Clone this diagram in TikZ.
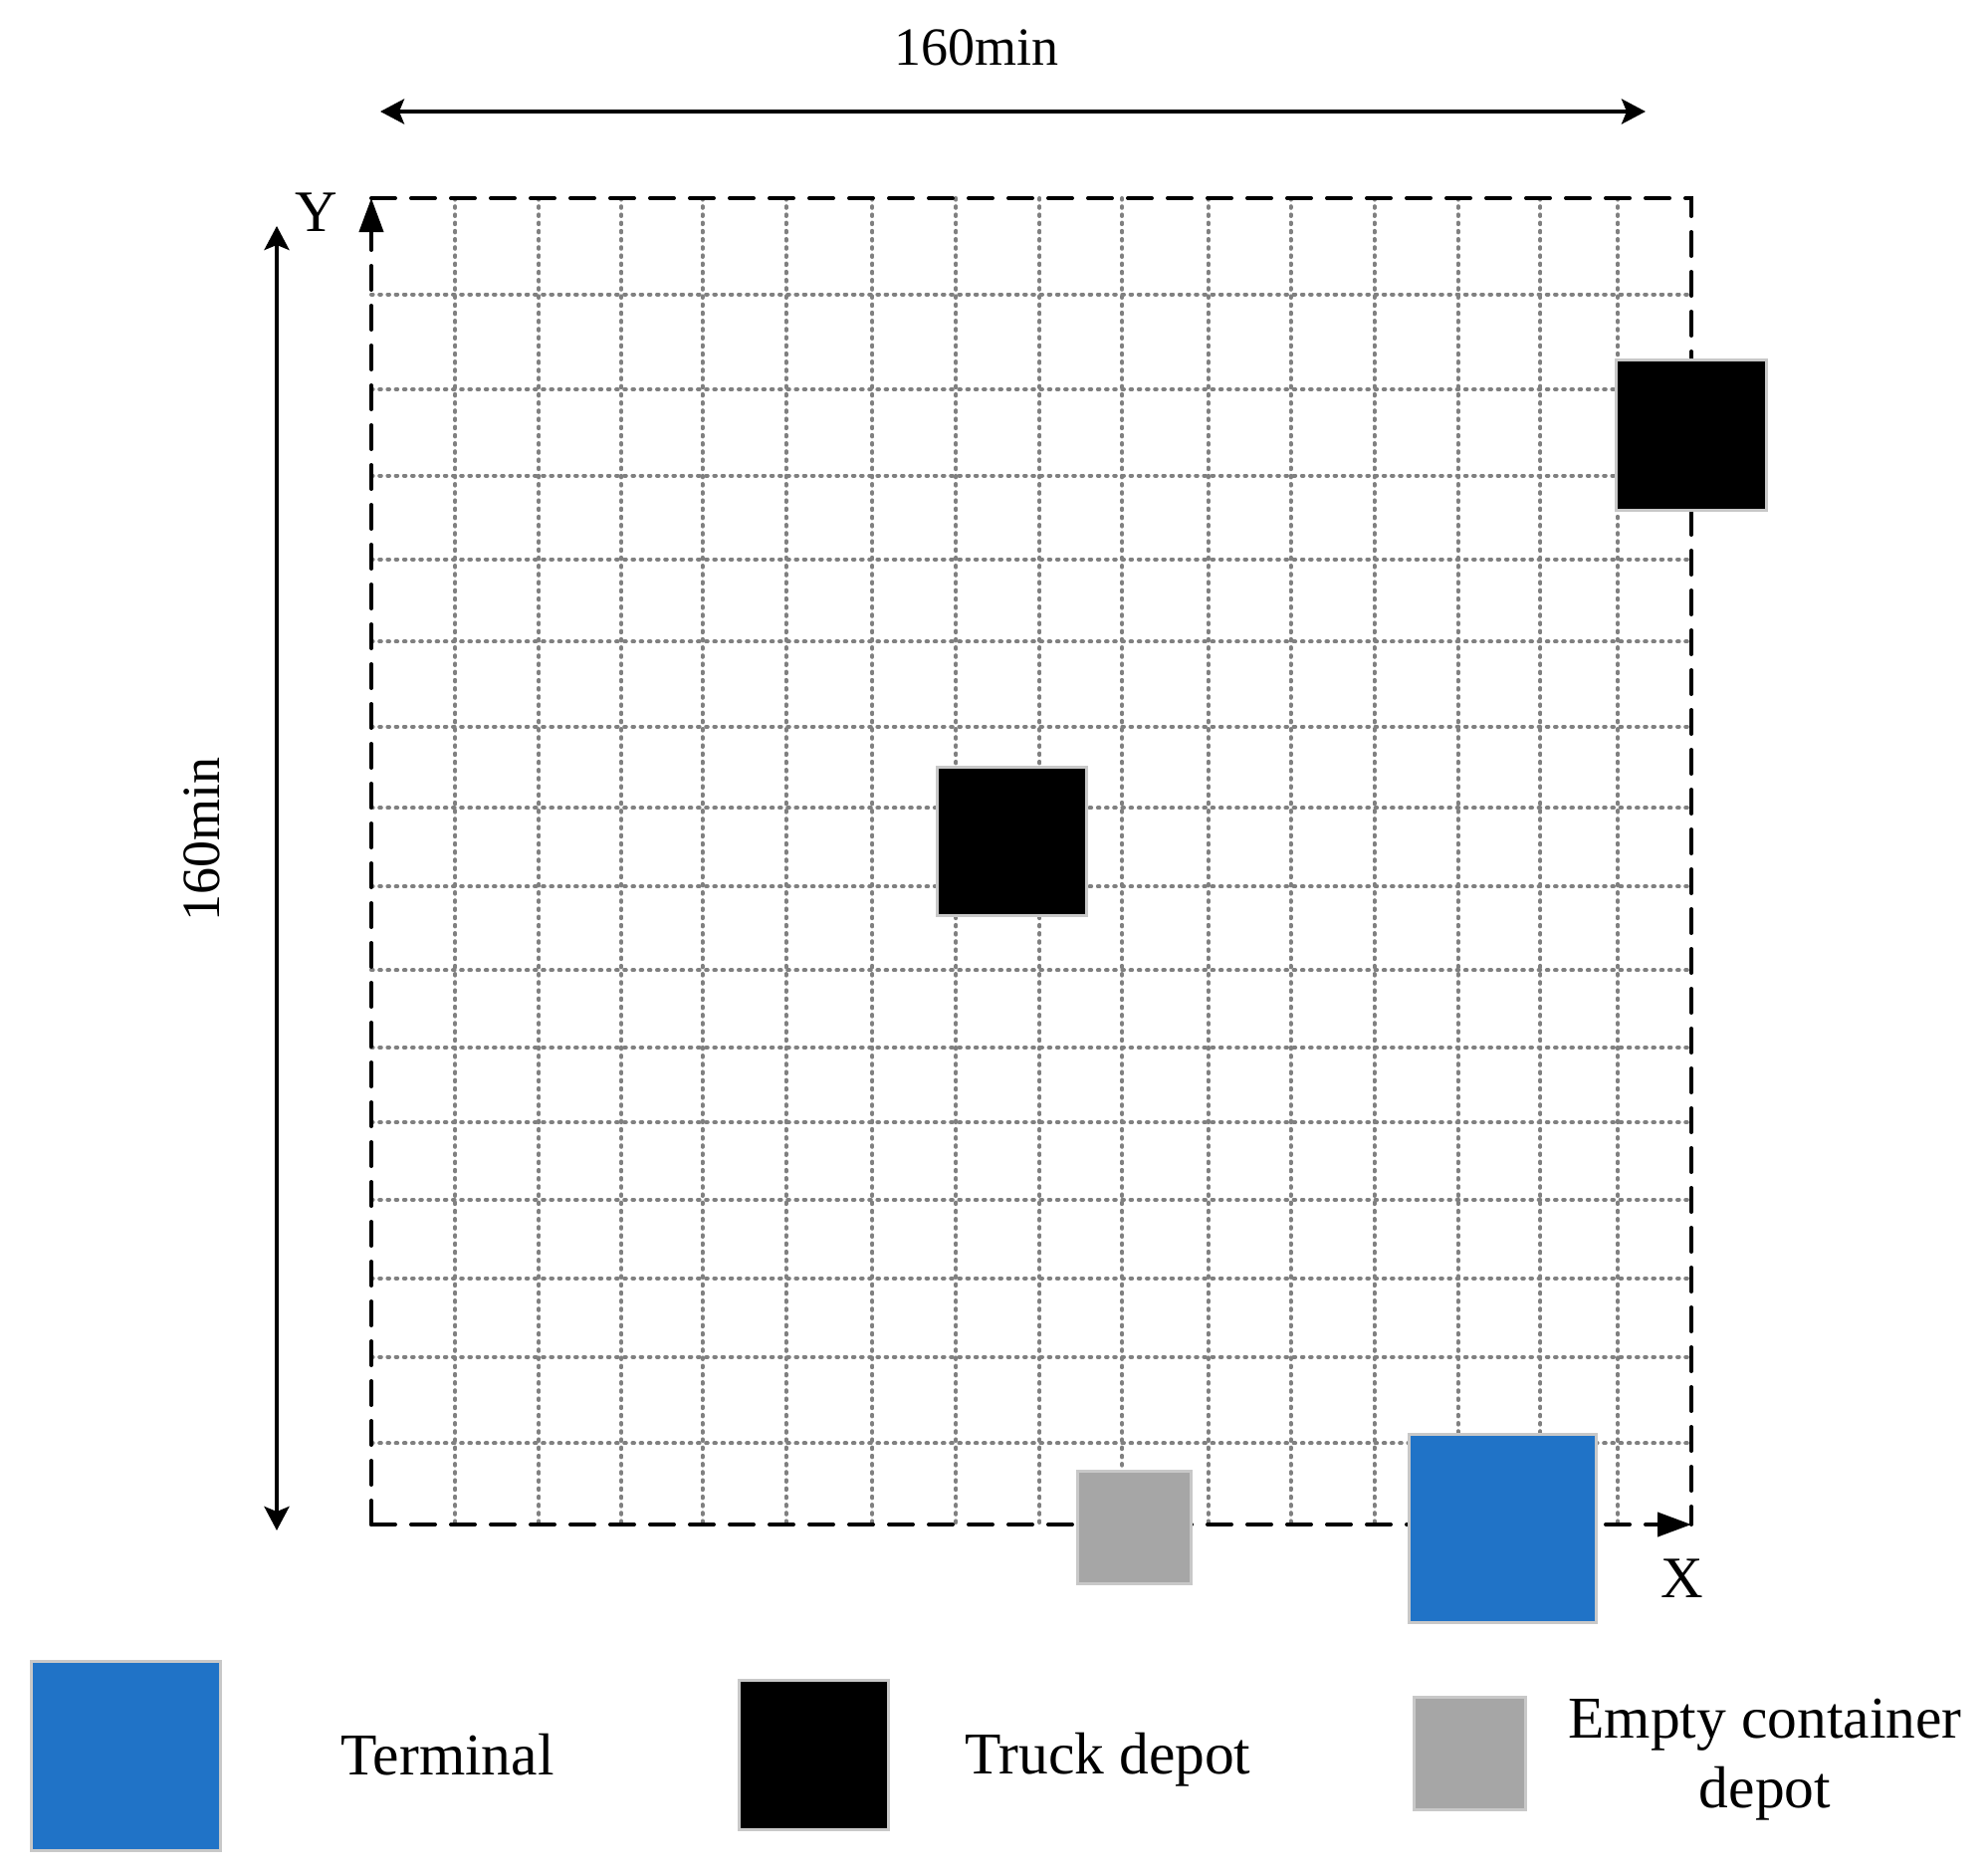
\documentclass[tikz,border=0pt]{standalone}
\usepackage{fontspec}
\setmainfont{Liberation Serif}
\usetikzlibrary{arrows.meta}
\definecolor{termblue}{HTML}{2073C7}
\definecolor{depotgray}{HTML}{A6A6A6}
\definecolor{edgegray}{HTML}{C8C8C8}
\definecolor{gridgray}{HTML}{808080}
\begin{document}
\begin{tikzpicture}[x=0.5pt,y=-0.5pt,
  gridline/.style={gridgray, line width=2pt, dash pattern=on 0.8pt off 3.3pt, line cap=round},
  border/.style={black, line width=2pt, dash pattern=on 12pt off 8pt, line cap=round},
  axistip/.style={-{Triangle[length=17pt,width=12pt]}},
  dimarrow/.style={line width=2pt, {Stealth[length=12pt,width=12.5pt,inset=2.5pt]}-{Stealth[length=12pt,width=12.5pt,inset=2.5pt]}},
  site/.style={draw=edgegray, line width=1.5pt, inner sep=0pt, outer sep=0pt},
  lbl/.style={inner sep=0pt, font=\fontsize{29.75pt}{35pt}\selectfont},
  dimlbl/.style={inner sep=0pt, font=\fontsize{27pt}{32pt}\selectfont}]

\useasboundingbox (0,0) rectangle (1997,1884);

% frame corners
\coordinate (O) at (373,1531);
\coordinate (TL) at (373,199);
\coordinate (TR) at (1699,199);
\coordinate (BR) at (1699,1531);

% grid
\foreach \gx in {457.2,541.3,624.1,705.6,789.6,876.2,960.3,1044.4,1127.1,1213.8,1296.5,1380.6,1464.7,1547.4,1625.1}
  \draw[gridline] (\gx,199) -- (\gx,1531);
\foreach \gy in {295.5,391.0,477.6,561.7,644.4,729.8,811.3,890.2,974.3,1052.0,1127.1,1204.8,1283.8,1362.8,1449.4}
  \draw[gridline] (373,\gy) -- (1699,\gy);

% frame and axes
\draw[border] (TL) -- (TR) -- (BR);
\draw[border,axistip] (O) -- (TL);
\draw[border,axistip] (O) -- (BR);

\node[inner sep=0pt, font=\fontsize{29.5pt}{34pt}\selectfont] (ylab) at (318,213) {Y};
\node[inner sep=0pt, font=\fontsize{29.5pt}{34pt}\selectfont] (xlab) at (1690,1585) {X};

% dimension arrows
\coordinate (dimT1) at (382,112);
\coordinate (dimT2) at (1653,112);
\draw[dimarrow] (dimT1) -- (dimT2);
\node[dimlbl] (dimTlab) at (981,48) {160min};

\coordinate (dimL1) at (278,227);
\coordinate (dimL2) at (278,1537);
\draw[dimarrow] (dimL1) -- (dimL2);
\node[dimlbl, rotate=90] (dimLlab) at (203,843) {160min};

% sites
\node[site, fill=black, minimum width=75.6pt, minimum height=75.4pt] (truckA) at (1699.2,436.7) {};
\node[site, fill=black, minimum width=74.9pt, minimum height=74.3pt] (truckB) at (1016.4,845) {};
\node[site, fill=depotgray, minimum width=57pt, minimum height=56.4pt] (empty) at (1139.9,1534) {};
\node[site, fill=termblue, minimum width=94.3pt, minimum height=94.4pt] (term) at (1509.5,1534.7) {};

% legend
\node[site, fill=termblue, minimum width=95pt, minimum height=95pt] (legT) at (126.7,1763.3) {};
\node[lbl, anchor=base] (legTlab) at (449.6,1782) {Terminal};
\node[site, fill=black, minimum width=75pt, minimum height=75pt] (legD) at (817.7,1762.7) {};
\node[lbl, anchor=base] (legDlab) at (1113,1781) {Truck depot};
\node[site, fill=depotgray, minimum width=56pt, minimum height=56.5pt] (legE) at (1476,1760.7) {};
\node[lbl, anchor=base] (legElab1) at (1773,1745) {Empty container};
\node[lbl, anchor=base] (legElab2) at (1773,1815) {depot};
\end{tikzpicture}
\end{document}
